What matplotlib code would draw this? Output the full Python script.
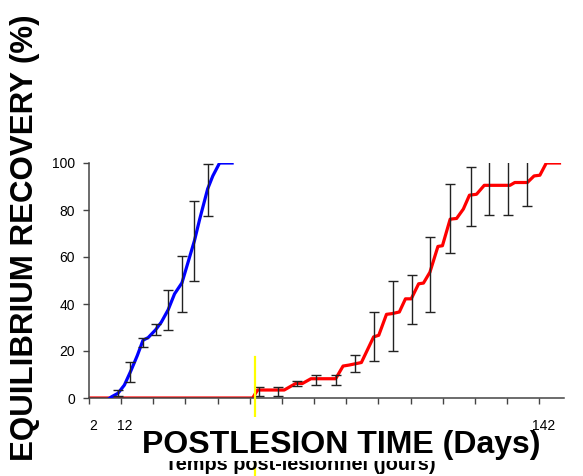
import matplotlib.pyplot as plt
from matplotlib.patches import Rectangle
from matplotlib.transforms import ScaledTranslation

plt.rcParams['font.family'] = ['Liberation Sans', 'DejaVu Sans']

# blue group: mean recovery curve
blue_days = [8.5, 9, 11, 13, 15, 17, 18.8, 20.4, 22.7, 24.5, 26.6, 28.6, 30.9, 34.8, 36.4, 38.9, 40.5, 42.6, 46.5]
blue_vals = [0, 0.5, 2, 5.5, 11.5, 18, 24.6, 25.7, 29, 32.3, 37.5, 44.3, 49, 67, 76, 89, 94.5, 100, 100]
blue_err_days = [11, 14.7, 18.8, 22.7, 26.6, 30.9, 34.8, 38.9]
blue_err_mean = [2, 11.2, 23.6, 29, 37.3, 48.6, 67, 88.5]
blue_err_sd = [1.2, 4.2, 2.1, 2.3, 8.5, 12, 17, 11]

# red group
red_days = [2, 52.9, 54.4, 62.7, 66.3, 68.4, 71, 78.7, 81, 82.8, 86.7, 90.5, 92.1, 94.5, 96.2, 98.5,
            100.4, 102.2, 104.5, 106, 108, 110.5, 111.9, 114.3, 116.3, 118.4, 120.3, 122.5, 124.9,
            132.9, 134.4, 138.3, 140.4, 142.2, 144.2, 148.3]
red_vals = [0, 0, 3.4, 3.4, 6.2, 6.2, 8.2, 8.2, 13.6, 14.0, 15.1, 26, 26.7, 35.6, 35.9, 36.6,
            42.2, 42.2, 48.6, 48.9, 53.5, 64.5, 64.8, 76.1, 76.4, 80.4, 86.3, 86.7, 90.5,
            90.5, 91.7, 91.7, 94.5, 94.8, 100, 100]
red_err_days = [54.9, 60.8, 66.8, 72.7, 78.7, 84.7, 90.5, 96.5, 102.4, 108.1, 114.3, 120.7, 126.4, 132.3, 138.3]
red_err_mean = [2.7, 2.7, 6.2, 7.6, 7.6, 14.8, 26, 35, 42, 52.7, 76.3, 85.8, 90.5, 90.5, 91.7]
red_err_sd = [1.8, 1.8, 1.0, 2.1, 2.1, 3.7, 10.4, 15, 10.4, 16, 14.7, 12.5, 12.7, 12.7, 10.2]

lesion_day = 53.7
x_ticks = [2, 12, 22, 32, 42, 52, 62, 72, 82, 92, 102, 112, 122, 132, 142]
y_ticks = [0, 20, 40, 60, 80, 100]

fig = plt.figure(figsize=(5.83, 4.76), dpi=100)
ax = fig.add_axes([89 / 583, 78 / 476, 475 / 583, 235 / 476])

ax.plot(red_days, red_vals, color='#ff0000', lw=2.3, solid_joinstyle='round', zorder=2)
ax.plot(blue_days, blue_vals, color='#0000ff', lw=2.3, solid_joinstyle='round', zorder=3)
ax.errorbar(blue_err_days, blue_err_mean, yerr=blue_err_sd, fmt='none', ecolor='#222222',
            elinewidth=1, capsize=3.5, capthick=1, zorder=4)
ax.errorbar(red_err_days, red_err_mean, yerr=red_err_sd, fmt='none', ecolor='#222222',
            elinewidth=1, capsize=3.5, capthick=1, zorder=4)
ax.plot([lesion_day, lesion_day], [17.4, -40], color='#ffff00', lw=1.6, clip_on=False, zorder=5)

ax.set_xlim(2, 149.7)
ax.set_ylim(0, 100)
ax.set_xticks(x_ticks)
ax.set_xticklabels([str(t) for t in x_ticks])
ax.set_yticks(y_ticks)
for s in ['top', 'right']:
    ax.spines[s].set_visible(False)
for s in ['left', 'bottom']:
    ax.spines[s].set_color('#444444')
    ax.spines[s].set_linewidth(1.1)
ax.tick_params(axis='both', colors='#444444', length=4.3, width=1, labelcolor='black', labelsize=10)
ax.tick_params(axis='x', pad=10.5)
ax.tick_params(axis='y', pad=5.8)
shift = ScaledTranslation(4 / 100, 0, fig.dpi_scale_trans)
for lab in ax.get_xticklabels():
    lab.set_transform(lab.get_transform() + shift)

fig.text(25 / 583, 1 - 238 / 476, 'EQUILIBRIUM RECOVERY (%)', rotation=90, fontsize=22.5,
         fontweight='bold', ha='center', va='center')
fig.text(300 / 583, 1 - 470 / 476, 'Temps post-lésionnel (jours)', fontsize=14.3,
         fontweight='bold', ha='center', va='baseline', zorder=3)
# white block hiding the middle tick labels and the top of the French caption
fig.patches.append(Rectangle((150 / 583, 1 - 461 / 476), 378 / 583, 44 / 476,
                             transform=fig.transFigure, facecolor='white', edgecolor='none', zorder=4))
fig.text(341 / 583, 1 - 445 / 476, 'POSTLESION TIME (Days)', fontsize=23,
         fontweight='bold', ha='center', va='center', zorder=5)

fig.savefig('out.png', dpi=100)
